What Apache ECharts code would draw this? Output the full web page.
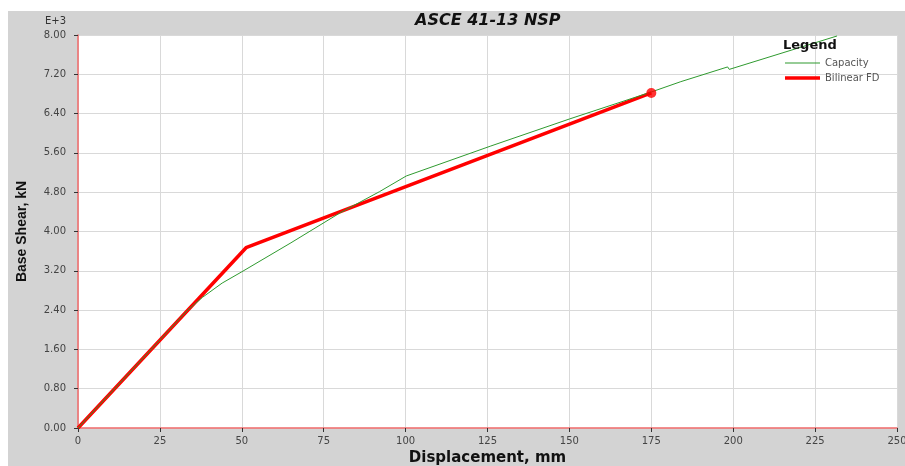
<!DOCTYPE html>
<html lang="en">
<head>
    <meta charset="utf-8">
    <script src="https://cdn.jsdelivr.net/npm/echarts@6/dist/echarts.min.js"></script>
    <style>
        html, body {margin: 0; padding: 0; background: #fff; overflow: hidden;}
        #nsp {position: absolute; left: 8px; top: 11px; width: 897px; height: 455px; background: #d3d3d3;}
    </style>
</head>
<body>
<div id="nsp"></div>
<script>
    // displacement (mm) / base shear (E+3 kN)
    var capacityX = [0, 33.5, 38, 44, 50, 65, 80, 92, 100.2, 126, 150, 175, 184, 198.3, 198.8, 231.7];
    var capacityY = [0, 2.40, 2.66, 2.95, 3.18, 3.77, 4.38, 4.81, 5.13, 5.74, 6.29, 6.84, 7.05, 7.35, 7.30, 7.98];
    var bilinearX = [0, 51.3, 175];
    var bilinearY = [0, 3.67, 6.82];
    var xTicks = [0, 25, 50, 75, 100, 125, 150, 175, 200, 225, 250];
    var yTicks = [0, 0.8, 1.6, 2.4, 3.2, 4.0, 4.8, 5.6, 6.4, 7.2, 8.0];

    function pairs(xs, ys) {
        return xs.map(function (x, i) { return [x, ys[i]]; });
    }

    var font = 'DejaVu Sans';
    // legend swatches: plain strokes, thin and thick
    var thinIcon = 'path://M0,0L0,0ZM35,10L35,10ZM0,4.5H35V5.5H0Z';
    var thickIcon = 'path://M0,0L0,0ZM35,10L35,10ZM0,3.3H35V6.7H0Z';

    var chart = echarts.init(document.getElementById('nsp'));

    chart.setOption({
        animation: false,
        backgroundColor: '#d3d3d3',
        title: [
            {
                text: 'ASCE 41-13 NSP',
                left: 407, top: 2, padding: 0,
                textStyle: {fontFamily: font, fontStyle: 'italic', fontWeight: 'bold', fontSize: 16, color: '#111'}
            },
            {
                text: 'E+3',
                left: 37, top: 5, padding: 0,
                textStyle: {fontFamily: font, fontWeight: 'normal', fontSize: 10, color: '#333'}
            },
            {
                text: 'Legend',
                left: 775, top: 28, padding: 0,
                textStyle: {fontFamily: font, fontWeight: 'bold', fontSize: 13, color: '#111'}
            }
        ],
        legend: {
            orient: 'vertical',
            left: 777, top: 47, padding: 0,
            itemWidth: 35, itemHeight: 10, itemGap: 5,
            data: [
                {name: 'Capacity', icon: thinIcon},
                {name: 'Bilinear FD', icon: thickIcon}
            ],
            textStyle: {fontFamily: font, fontSize: 10, color: '#555'}
        },
        grid: {
            left: 70, right: 8, top: 24, bottom: 38,
            show: true, backgroundColor: '#fff', borderWidth: 0,
            containLabel: false,
            outerBoundsMode: 'none'
        },
        xAxis: {
            type: 'value',
            min: xTicks[0], max: xTicks[xTicks.length - 1], interval: 25,
            name: 'Displacement, mm',
            nameLocation: 'middle', nameGap: 21,
            nameTextStyle: {fontFamily: font, fontWeight: 'bold', fontSize: 15, color: '#111'},
            axisLine: {lineStyle: {color: '#f06a6a', width: 1.5}},
            axisTick: {show: true, length: 4, lineStyle: {color: '#333'}},
            axisLabel: {fontFamily: font, fontSize: 10, color: '#444', margin: 8},
            splitLine: {lineStyle: {color: '#d9d9d9', width: 1}}
        },
        yAxis: {
            type: 'value',
            min: yTicks[0], max: yTicks[yTicks.length - 1], interval: 0.8,
            name: 'Base Shear, kN',
            nameLocation: 'middle', nameGap: 49, nameRotate: 90,
            nameTextStyle: {fontFamily: 'Liberation Sans', fontWeight: 'bold', fontSize: 14, color: '#111'},
            axisLine: {show: true, lineStyle: {color: '#f06a6a', width: 1.5}},
            axisTick: {show: true, length: 4, lineStyle: {color: '#333'}},
            axisLabel: {
                fontFamily: font, fontSize: 10, color: '#444', margin: 12,
                formatter: function (v) { return v.toFixed(2); }
            },
            splitLine: {lineStyle: {color: '#d9d9d9', width: 1}}
        },
        series: [
            {
                name: 'Capacity',
                type: 'line',
                symbol: 'none',
                data: pairs(capacityX, capacityY),
                lineStyle: {color: '#2f9a2f', width: 1},
                itemStyle: {color: '#2f9a2f'},
                z: 3
            },
            {
                name: 'Bilinear FD',
                type: 'line',
                symbol: 'none',
                data: pairs(bilinearX, bilinearY),
                lineStyle: {color: '#ff0000', width: 3.5},
                itemStyle: {color: '#ff0000'},
                z: 2
            },
            {
                name: 'point',
                type: 'scatter',
                symbol: 'circle',
                symbolSize: 10,
                data: [[bilinearX[2], bilinearY[2]]],
                itemStyle: {color: '#ff0000'},
                z: 4
            }
        ]
    });
</script>
</body>
</html>
